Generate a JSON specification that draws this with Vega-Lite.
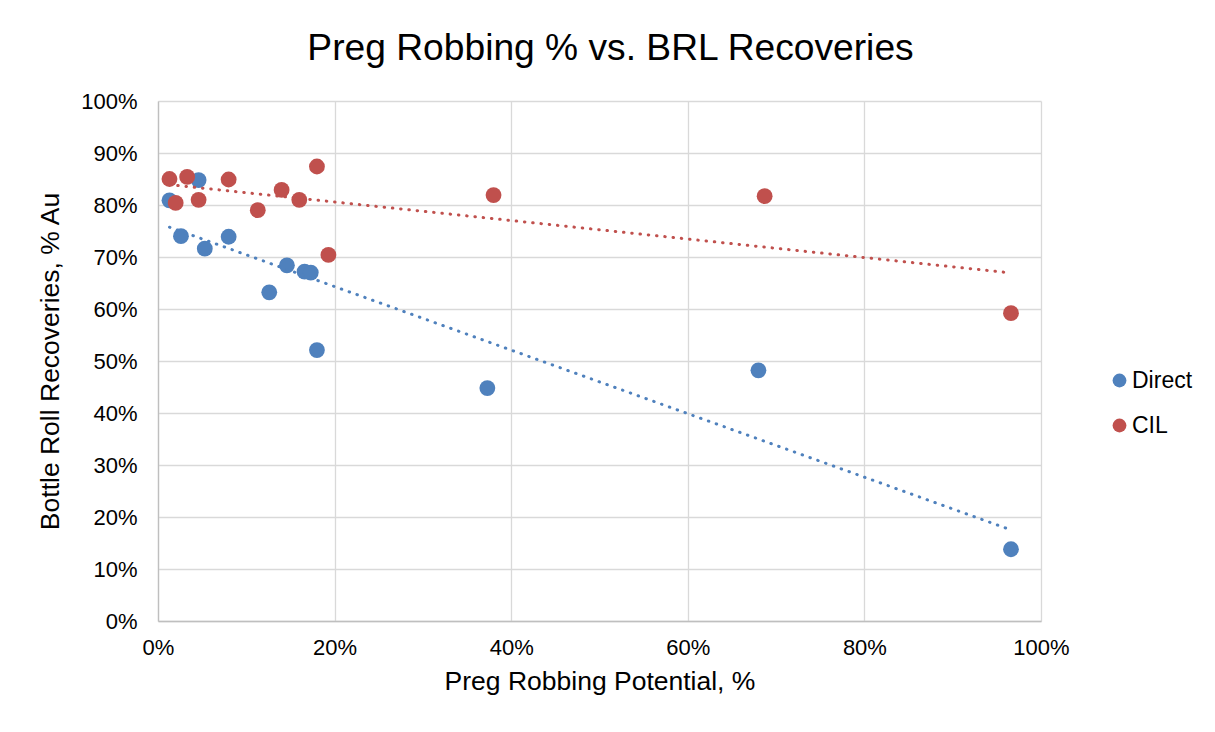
{
  "$schema": "https://vega.github.io/schema/vega-lite/v6.json",
  "autosize": {"type": "none"},
  "width": 883,
  "height": 520,
  "padding": {"left": 158, "top": 101, "right": 174, "bottom": 111},
  "background": "white",
  "config": {
    "font": "Liberation Sans",
    "view": {"stroke": null},
    "axis": {
      "gridColor": "#d9d9d9",
      "gridWidth": 1.3,
      "domainColor": "#bfbfbf",
      "domainWidth": 1.3,
      "ticks": false,
      "labelFont": "Liberation Sans",
      "labelFontSize": 22,
      "labelColor": "#000000",
      "titleFont": "Liberation Sans",
      "titleFontSize": 26.5,
      "titleFontWeight": "normal",
      "titleColor": "#000000"
    }
  },
  "title": {
    "text": "Preg Robbing % vs. BRL Recoveries",
    "font": "Liberation Sans",
    "fontSize": 37.2,
    "fontWeight": "normal",
    "color": "#000000",
    "anchor": "middle",
    "baseline": "alphabetic",
    "offset": -7,
    "dx": 11
  },
  "data": {
    "values": [
      {"series": "Direct", "x": 0.013, "y": 0.809},
      {"series": "Direct", "x": 0.046, "y": 0.848},
      {"series": "Direct", "x": 0.026, "y": 0.740},
      {"series": "Direct", "x": 0.053, "y": 0.716},
      {"series": "Direct", "x": 0.080, "y": 0.739},
      {"series": "Direct", "x": 0.146, "y": 0.684},
      {"series": "Direct", "x": 0.166, "y": 0.672},
      {"series": "Direct", "x": 0.173, "y": 0.670},
      {"series": "Direct", "x": 0.126, "y": 0.632},
      {"series": "Direct", "x": 0.180, "y": 0.521},
      {"series": "Direct", "x": 0.373, "y": 0.448},
      {"series": "Direct", "x": 0.680, "y": 0.482},
      {"series": "Direct", "x": 0.966, "y": 0.138},
      {"series": "CIL", "x": 0.013, "y": 0.850},
      {"series": "CIL", "x": 0.033, "y": 0.854},
      {"series": "CIL", "x": 0.080, "y": 0.849},
      {"series": "CIL", "x": 0.180, "y": 0.874},
      {"series": "CIL", "x": 0.020, "y": 0.804},
      {"series": "CIL", "x": 0.046, "y": 0.810},
      {"series": "CIL", "x": 0.113, "y": 0.790},
      {"series": "CIL", "x": 0.140, "y": 0.829},
      {"series": "CIL", "x": 0.160, "y": 0.810},
      {"series": "CIL", "x": 0.193, "y": 0.704},
      {"series": "CIL", "x": 0.380, "y": 0.819},
      {"series": "CIL", "x": 0.687, "y": 0.817},
      {"series": "CIL", "x": 0.966, "y": 0.592}
    ]
  },
  "layer": [
    {
      "mark": {"type": "point", "filled": true, "shape": "circle", "size": 250, "opacity": 1},
      "encoding": {
        "x": {
          "field": "x", "type": "quantitative",
          "scale": {"domain": [0, 1], "nice": false, "zero": true},
          "axis": {"values": [0, 0.2, 0.4, 0.6, 0.8, 1], "format": ".0%", "title": "Preg Robbing Potential, %", "labelPadding": 16, "titlePadding": 10, "labelFlush": false}
        },
        "y": {
          "field": "y", "type": "quantitative",
          "scale": {"domain": [0, 1], "nice": false},
          "axis": {"values": [0, 0.1, 0.2, 0.3, 0.4, 0.5, 0.6, 0.7, 0.8, 0.9, 1], "format": ".0%", "title": "Bottle Roll Recoveries, % Au", "labelPadding": 21, "titlePadding": 16, "labelFlush": false}
        },
        "color": {
          "field": "series", "type": "nominal",
          "scale": {"domain": ["Direct", "CIL"], "range": ["#4F81BD", "#C0504D"]},
          "legend": {
            "title": null,
            "orient": "none",
            "legendX": 950,
            "legendY": 268,
            "padding": 0,
            "symbolType": "circle",
            "symbolSize": 190,
            "symbolStrokeWidth": 0,
            "labelFont": "Liberation Sans",
            "labelFontSize": 23,
            "labelColor": "#000000",
            "labelOffset": 1,
            "rowPadding": 21
          }
        }
      }
    },
    {
      "transform": [{"regression": "y", "on": "x", "groupby": ["series"]}],
      "mark": {"type": "line", "strokeWidth": 3, "strokeCap": "round", "strokeDash": [0.5, 7.8]},
      "encoding": {
        "x": {"field": "x", "type": "quantitative"},
        "y": {"field": "y", "type": "quantitative"},
        "color": {"field": "series", "type": "nominal", "legend": null}
      }
    }
  ]
}
